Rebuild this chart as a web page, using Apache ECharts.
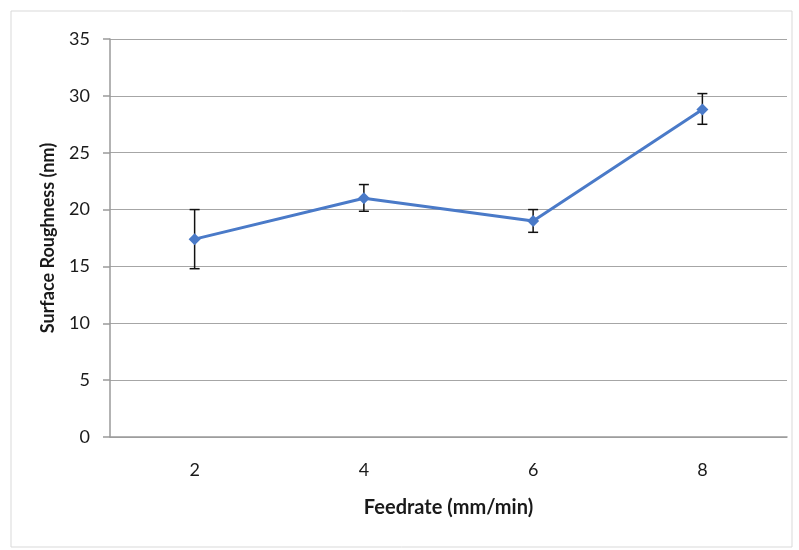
<!DOCTYPE html>
<html><head><meta charset="utf-8">
<script src="https://cdn.jsdelivr.net/npm/echarts@6/dist/echarts.min.js"></script>
<style>html,body{margin:0;padding:0;background:#fff}#c{width:799px;height:550px}</style>
</head><body><div id="c"></div>
<script>
const categories = ['2', '4', '6', '8'];
const roughness = [17.4, 21.0, 19.0, 28.8];
const errLow = [14.8, 19.85, 18.0, 27.5];
const errHigh = [20.0, 22.2, 20.0, 30.2];
const yTicks = [0, 5, 10, 15, 20, 25, 30, 35];

const chart = echarts.init(document.getElementById('c'));
const errData = categories.map((c, i) => [i, errLow[i], errHigh[i]]);
const font = 'Lato, "Open Sans", sans-serif';
chart.setOption({
  animation: false,
  graphic: [{type: 'rect', shape: {x: 11, y: 11, width: 781, height: 536}, style: {fill: 'none', stroke: '#d9d9d9', lineWidth: 1}}],
  grid: {left: 110, right: 12, top: 39, bottom: 113},
  xAxis: {
    type: 'category', data: categories, boundaryGap: true,
    name: 'Feedrate (mm/min)', nameLocation: 'middle', nameGap: 61,
    nameTextStyle: {fontFamily: font, fontWeight: 'bold', fontSize: 20, color: '#1a1a1a'},
    axisLine: {lineStyle: {color: '#9a9a9a', width: 1.5}},
    axisTick: {show: false},
    axisLabel: {fontFamily: font, fontSize: 18, color: '#1a1a1a', margin: 24}
  },
  yAxis: {
    type: 'value', min: yTicks[0], max: yTicks[yTicks.length - 1], interval: 5,
    name: 'Surface Roughness (nm)', nameLocation: 'middle', nameGap: 53, nameRotate: 90,
    nameTextStyle: {fontFamily: font, fontWeight: 'bold', fontSize: 18, color: '#1a1a1a'},
    axisLine: {show: true, lineStyle: {color: '#9a9a9a', width: 1.5}},
    axisTick: {show: true, length: 7, lineStyle: {color: '#9a9a9a', width: 1.5}},
    splitLine: {lineStyle: {color: '#a6a6a6', width: 1.2}},
    axisLabel: {fontFamily: font, fontSize: 18, color: '#1a1a1a', margin: 20}
  },
  series: [
    {
      type: 'custom', data: errData, z: 3,
      renderItem: function (params, api) {
        const x = api.value(0);
        const lo = api.coord([x, api.value(1)]);
        const hi = api.coord([x, api.value(2)]);
        const hw = 5;
        const st = {stroke: '#111', lineWidth: 1.5};
        return {type: 'group', children: [
          {type: 'line', shape: {x1: lo[0], y1: lo[1], x2: hi[0], y2: hi[1]}, style: st},
          {type: 'line', shape: {x1: lo[0] - hw, y1: lo[1], x2: lo[0] + hw, y2: lo[1]}, style: st},
          {type: 'line', shape: {x1: hi[0] - hw, y1: hi[1], x2: hi[0] + hw, y2: hi[1]}, style: st}
        ]};
      }
    },
    {
      type: 'line', data: roughness, z: 4,
      symbol: 'diamond', symbolSize: 12,
      lineStyle: {color: '#4a7ac8', width: 3},
      itemStyle: {color: '#4a7ac8'}
    }
  ]
});
</script></body></html>
